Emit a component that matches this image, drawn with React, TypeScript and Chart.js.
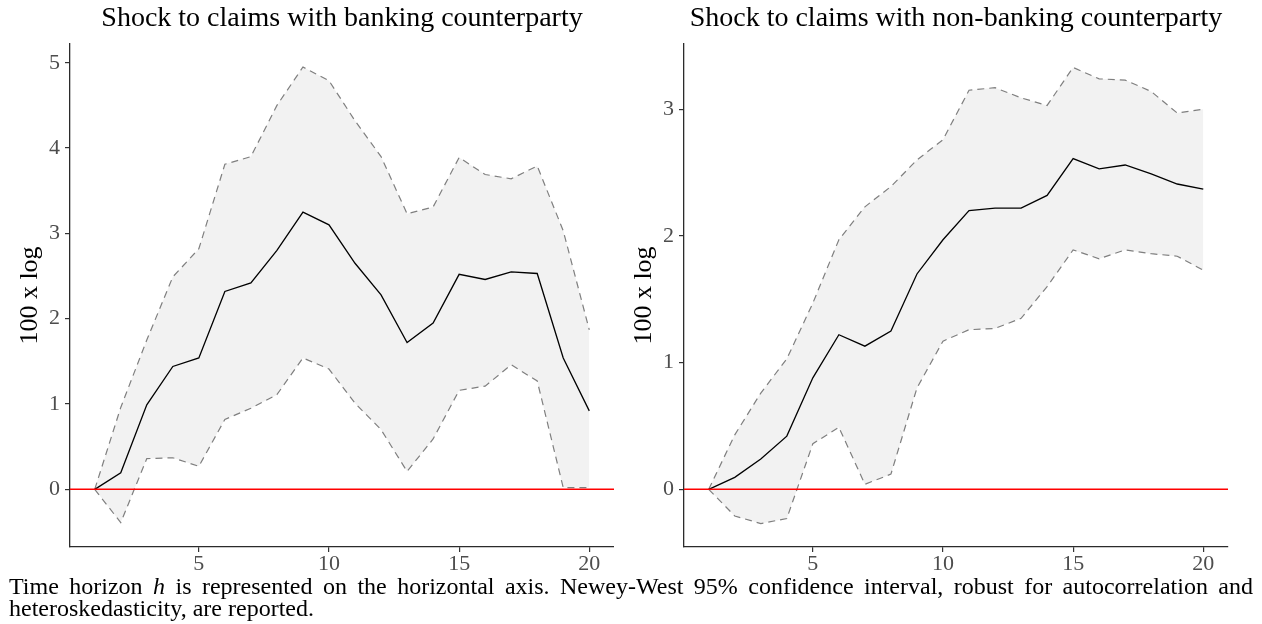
import React, { useEffect, useRef } from "react";
import { Chart, registerables } from "chart.js";

Chart.register(...registerables);

const horizons = [1, 2, 3, 4, 5, 6, 7, 8, 9, 10, 11, 12, 13, 14, 15, 16, 17, 18, 19, 20];

const bankCentral = [0, 0.195, 0.99, 1.44, 1.54, 2.32, 2.42, 2.8, 3.25, 3.1, 2.65, 2.28, 1.72, 1.95, 2.52, 2.46, 2.55, 2.53, 1.54, 0.92];
const bankUpper = [0, 0.96, 1.75, 2.49, 2.82, 3.81, 3.9, 4.5, 4.95, 4.79, 4.32, 3.9, 3.23, 3.31, 3.89, 3.69, 3.64, 3.79, 3.03, 1.87];
const bankLower = [0, -0.39, 0.36, 0.37, 0.27, 0.82, 0.95, 1.11, 1.54, 1.41, 1.01, 0.7, 0.21, 0.59, 1.16, 1.21, 1.46, 1.27, 0.02, 0.02];

const nonBankCentral = [0, 0.095, 0.24, 0.42, 0.88, 1.22, 1.13, 1.25, 1.7, 1.97, 2.2, 2.22, 2.22, 2.32, 2.61, 2.53, 2.56, 2.49, 2.41, 2.37];
const nonBankUpper = [0, 0.43, 0.76, 1.03, 1.47, 1.97, 2.23, 2.39, 2.6, 2.76, 3.15, 3.17, 3.09, 3.03, 3.33, 3.24, 3.23, 3.14, 2.97, 3.0];
const nonBankLower = [0, -0.21, -0.27, -0.23, 0.36, 0.49, 0.04, 0.12, 0.8, 1.17, 1.26, 1.27, 1.35, 1.6, 1.89, 1.82, 1.89, 1.86, 1.84, 1.73];

const xTicks = [5, 10, 15, 20];
const bankYTicks = [0, 1, 2, 3, 4, 5];
const nonBankYTicks = [0, 1, 2, 3];
const xBounds = [0.05, 20.95];
const bankYBounds = [-0.676, 5.22];
const nonBankYBounds = [-0.455, 3.515];

const titles = ["Shock to claims with banking counterparty", "Shock to claims with non-banking counterparty"];
const yTitle = "100 x log";

const FONT = "'Liberation Serif', 'Times New Roman', serif";

type PanelProps = {
  central: number[];
  upper: number[];
  lower: number[];
  yBounds: number[];
  yTicks: number[];
  left: number;
  width: number;
  padRight: number;
};

function Panel({ central, upper, lower, yBounds, yTicks, left, width, padRight }: PanelProps) {
  const ref = useRef<HTMLCanvasElement | null>(null);
  useEffect(() => {
    if (!ref.current) return;
    const pts = (vals: number[]) => horizons.map((h, i) => ({ x: h, y: vals[i] }));
    const chart = new Chart(ref.current, {
      type: "line",
      data: {
        datasets: [
          {
            data: [
              { x: xBounds[0], y: 0 },
              { x: xBounds[1], y: 0 },
            ],
            borderColor: "#ff0000",
            borderWidth: 1.5,
            pointRadius: 0,
            fill: false,
          },
          {
            data: pts(central),
            borderColor: "#000000",
            borderWidth: 1.3,
            pointRadius: 0,
            fill: false,
          },
          {
            data: pts(upper),
            borderColor: "#7f7f7f",
            borderWidth: 1.2,
            borderDash: [7, 5],
            pointRadius: 0,
            fill: "+1",
            backgroundColor: "#f2f2f2",
          },
          {
            data: pts(lower),
            borderColor: "#7f7f7f",
            borderWidth: 1.2,
            borderDash: [7, 5],
            pointRadius: 0,
            fill: false,
          },
        ],
      },
      options: {
        animation: false,
        responsive: false,
        events: [],
        layout: { padding: { top: 44, right: padRight, left: 0, bottom: 0 } },
        plugins: {
          legend: { display: false },
          tooltip: { enabled: false },
          filler: { drawTime: "beforeDatasetsDraw" },
        },
        scales: {
          x: {
            type: "linear",
            min: xBounds[0],
            max: xBounds[1],
            afterBuildTicks: (s: any) => {
              s.ticks = xTicks.map((v) => ({ value: v }));
            },
            afterFit: (s: any) => {
              s.height = 33;
            },
            grid: {
              display: true,
              drawOnChartArea: false,
              drawTicks: true,
              tickLength: 5,
              color: "#333333",
              lineWidth: 1.2,
            },
            border: { display: true, color: "#2b2b2b", width: 1.3 },
            ticks: {
              font: { family: FONT, size: 22 },
              color: "#4d4d4d",
              padding: -1,
              maxRotation: 0,
              autoSkip: false,
            },
          },
          y: {
            type: "linear",
            min: yBounds[0],
            max: yBounds[1],
            afterBuildTicks: (s: any) => {
              s.ticks = yTicks.map((v) => ({ value: v }));
            },
            afterFit: (s: any) => {
              s.width = 70;
            },
            grid: {
              display: true,
              drawOnChartArea: false,
              drawTicks: true,
              tickLength: 5,
              color: "#333333",
              lineWidth: 1.2,
            },
            border: { display: true, color: "#2b2b2b", width: 1.3 },
            ticks: {
              font: { family: FONT, size: 22 },
              color: "#4d4d4d",
              padding: 5,
              autoSkip: false,
            },
            title: {
              display: true,
              text: yTitle,
              color: "#000000",
              font: { family: FONT, size: 26 },
              padding: { top: 15, bottom: 0 },
            },
          },
        },
      } as any,
    });
    return () => chart.destroy();
  }, []);
  return (
    <canvas
      ref={ref}
      width={width}
      height={580}
      style={{ position: "absolute", left, top: 0, width, height: 580 }}
    />
  );
}

export default function App() {
  const titleStyle: React.CSSProperties = {
    position: "absolute",
    top: 3,
    width: 544,
    textAlign: "center",
    fontFamily: FONT,
    fontSize: 28,
    lineHeight: "28px",
    color: "#000",
    whiteSpace: "nowrap",
  };
  const captionStyle: React.CSSProperties = {
    position: "absolute",
    left: 9,
    width: 1244,
    fontFamily: FONT,
    fontSize: 24,
    lineHeight: "22px",
    color: "#000",
    zIndex: 2,
  };
  return (
    <div
      style={{
        position: "absolute",
        left: 0,
        top: 0,
        width: 1262,
        height: 624,
        background: "#ffffff",
        overflow: "hidden",
      }}
    >
      <Panel
        central={bankCentral}
        upper={bankUpper}
        lower={bankLower}
        yBounds={bankYBounds}
        yTicks={bankYTicks}
        left={0}
        width={614}
        padRight={0}
      />
      <Panel
        central={nonBankCentral}
        upper={nonBankUpper}
        lower={nonBankLower}
        yBounds={nonBankYBounds}
        yTicks={nonBankYTicks}
        left={614}
        width={620}
        padRight={6}
      />
      <div style={{ ...titleStyle, left: 70 }}>{titles[0]}</div>
      <div style={{ ...titleStyle, left: 684 }}>{titles[1]}</div>
      <div style={{ ...captionStyle, top: 575, textAlign: "justify", textAlignLast: "justify" } as React.CSSProperties}>
        Time horizon <i>h</i> is represented on the horizontal axis. Newey-West 95% confidence interval, robust for autocorrelation and
      </div>
      <div style={{ ...captionStyle, top: 597 }}>heteroskedasticity, are reported.</div>
    </div>
  );
}
